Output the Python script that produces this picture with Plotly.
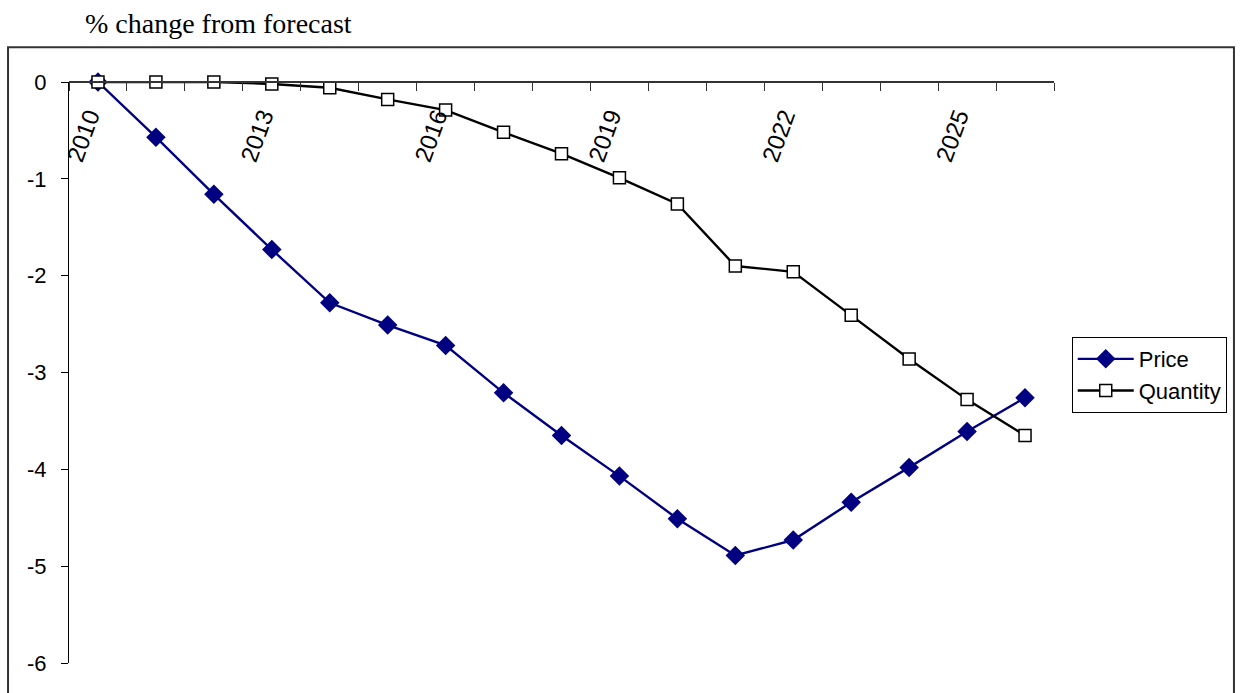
import plotly.graph_objects as go

years = list(range(2010, 2027))
price = [0.0, -0.57, -1.16, -1.73, -2.28, -2.51, -2.72, -3.21, -3.65, -4.07,
         -4.51, -4.89, -4.73, -4.34, -3.98, -3.61, -3.26]
quantity = [0.0, 0.0, 0.0, -0.02, -0.06, -0.18, -0.29, -0.52, -0.74, -0.99,
            -1.26, -1.90, -1.96, -2.41, -2.86, -3.28, -3.65]
tick_years = [2010, 2013, 2016, 2019, 2022, 2025]
tick_labels = [str(y) for y in tick_years]
y_ticks = [0, -1, -2, -3, -4, -5, -6]
y_tick_labels = ["0", "-1", "-2", "-3", "-4", "-5", "-6"]

fig = go.Figure()
fig.add_trace(go.Scatter(
    x=years, y=price, name="Price", mode="lines+markers", cliponaxis=False,
    line=dict(color="#000080", width=2.4),
    marker=dict(symbol="diamond", size=15, color="#000080"),
))
fig.add_trace(go.Scatter(
    x=years, y=quantity, name="Quantity", mode="lines+markers", cliponaxis=False,
    line=dict(color="black", width=2.4),
    marker=dict(symbol="square", size=12, color="white",
                line=dict(color="black", width=1.5)),
))

fig.update_layout(
    width=1242, height=693,
    margin=dict(l=69, r=188, t=82, b=30),
    paper_bgcolor="white", plot_bgcolor="white",
    font=dict(family="Liberation Sans, Arial, sans-serif", color="black"),
    xaxis=dict(
        range=[2009.5, 2026.5], anchor="free", position=1, side="bottom",
        tickmode="array", tickvals=tick_years, ticktext=tick_labels,
        tickangle=-70, ticks="", ticklabelstandoff=10, ticklabelshift=-9,
        tickfont=dict(size=24, family="Liberation Sans, Arial, sans-serif"),
        showline=True, linecolor="#333333", linewidth=1.5,
        showgrid=False, zeroline=False,
        minor=dict(tick0=2009.5, dtick=1, ticks="outside", ticklen=8,
                   tickcolor="#333333", tickwidth=1, showgrid=False),
    ),
    yaxis=dict(
        range=[-6, 0], tickmode="array", tickvals=y_ticks, ticktext=y_tick_labels,
        ticks="outside", ticklen=7, tickcolor="black", tickwidth=1,
        ticklabelstandoff=10,
        tickfont=dict(size=22, family="Liberation Sans, Arial, sans-serif"),
        showline=True, linecolor="black", linewidth=1,
        showgrid=False, zeroline=False,
    ),
    legend=dict(
        x=1.018, y=0.561, xanchor="left", yanchor="top",
        bordercolor="black", borderwidth=1, bgcolor="white",
        font=dict(size=22, family="Liberation Sans, Arial, sans-serif"),
        itemwidth=56, tracegroupgap=0,
    ),
    showlegend=True,
)

# outer chart frame
fig.add_shape(type="rect", xref="paper", yref="paper",
              x0=-0.0619, x1=1.1827, y0=-0.2, y1=1.0597,
              line=dict(color="#333333", width=2), fillcolor="rgba(0,0,0,0)",
              layer="below")

fig.add_annotation(
    text="% change from forecast", xref="paper", yref="paper",
    x=0.0142, y=1.13, xanchor="left", yanchor="top", showarrow=False,
    font=dict(family="Liberation Serif, Times New Roman, serif", size=28, color="black"),
)

fig.write_html("out.html")
